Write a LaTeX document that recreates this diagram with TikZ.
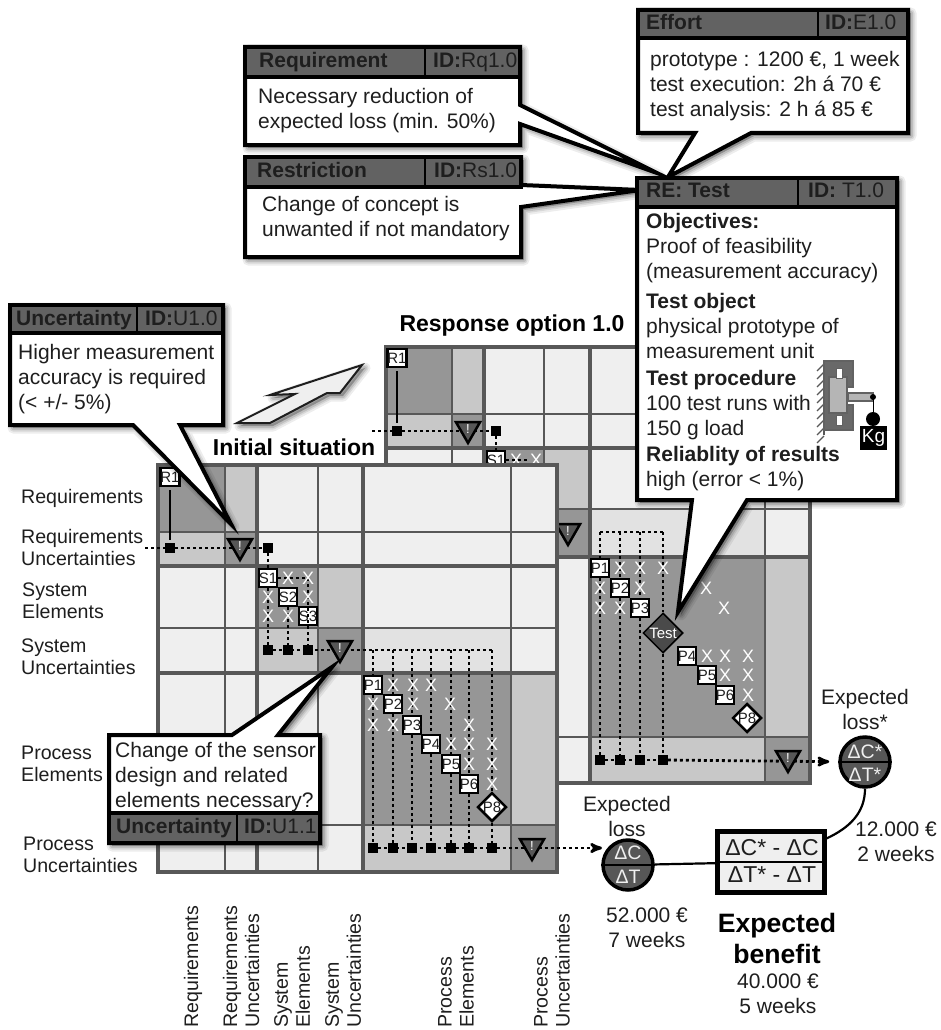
\documentclass[tikz,border=0pt]{standalone}
\usepackage{fontspec}
\setmainfont{Liberation Sans}
\usetikzlibrary{arrows,shapes.geometric}
\definecolor{gridlight}{HTML}{EFEFEF}
\definecolor{gridpale}{HTML}{E2E2E2}
\definecolor{gridmid}{HTML}{C8C8C8}
\definecolor{griddark}{HTML}{969696}
\definecolor{gridrule}{HTML}{585858}
\definecolor{barfill}{HTML}{626262}
\definecolor{inktext}{HTML}{1E1E1E}
\definecolor{nodefill}{HTML}{575757}
\tikzset{
  softshadow/.style={
    preaction={draw=black,fill=black,opacity=.07,line join=round,line width=11pt,transform canvas={shift={(3pt,-3pt)}}},
    preaction={draw=black,fill=black,opacity=.09,line join=round,line width=7pt,transform canvas={shift={(3pt,-3pt)}}},
    preaction={draw=black,fill=black,opacity=.12,line join=round,line width=4pt,transform canvas={shift={(3pt,-3pt)}}}},
  calloutframe/.style={softshadow,draw=black,fill=white,line width=4pt,miter limit=20},
  calloutbar/.style={draw=black,fill=barfill,line width=4pt},
  barsplit/.style={draw=black,line width=2pt},
  bodytext/.style={inner sep=0pt,anchor=west,align=left,text=inktext,font=\fontsize{21}{25}\selectfont},
  headtext/.style={inner sep=0pt,anchor=west,text=inktext,text height=15pt,text depth=4pt,font=\fontsize{21}{25}\selectfont},
  rowlabel/.style={inner sep=0pt,anchor=west,align=left,text=inktext,font=\fontsize{19.6}{22}\selectfont},
  collabel/.style={rowlabel,rotate=90},
  captiontext/.style={inner sep=0pt,align=center,text=inktext,font=\fontsize{21}{25}\selectfont},
  boldtitle/.style={inner sep=0pt,text=black,font=\fontsize{23}{27}\bfseries\selectfont},
  elementbox/.style={draw=black,fill=white,line width=2.4pt,minimum size=18pt,inner sep=0pt,text=inktext,font=\fontsize{15}{15}\selectfont},
  elementdiamond/.style={diamond,aspect=1,draw=black,fill=white,line width=2.5pt,minimum size=29pt,inner sep=0pt,text=inktext,font=\fontsize{15}{15}\selectfont},
  testdiamond/.style={diamond,aspect=1,draw=black,fill=nodefill!85!black,line width=1.5pt,minimum size=40pt,inner sep=0pt,text=white,font=\fontsize{15}{15}\selectfont},
  crossmark/.style={inner sep=0pt,text=white,font=\fontsize{18}{18}\selectfont},
  junction/.style={fill=black,minimum size=9.5pt,inner sep=0pt},
  uncmark/.style={regular polygon,regular polygon sides=3,shape border rotate=180,draw=black,fill=nodefill,line width=2.5pt,minimum size=28pt,inner sep=0pt,text=white,font=\fontsize{13}{13}\selectfont},
  depline/.style={draw=black,line width=2.8pt,dash pattern=on 2.8pt off 3.2pt},
  solidlink/.style={draw=black,line width=2.2pt,shorten <=3pt,shorten >=3pt},
  gridminor/.style={draw=gridrule,line width=2.4pt},
  gridmajor/.style={draw=gridrule,line width=3.2pt},
  gridframe/.style={draw=gridrule,line width=4.4pt},
  expectnode/.style={circle,draw=black,fill=nodefill,line width=3.5pt,minimum size=50pt,inner sep=0pt},
  expecttext/.style={inner sep=0pt,text=gridlight,font=\fontsize{19.5}{20}\selectfont},
  benefitbox/.style={draw=black,fill=gridlight,line width=4.5pt,minimum width=107pt,minimum height=61pt,inner sep=0pt},
  benefittext/.style={inner sep=0pt,text=inktext,font=\fontsize{23}{24}\selectfont},
  benefitlink/.style={draw=black,line width=2.2pt}
}
\begin{document}
\begin{tikzpicture}[x=1pt,y=-1pt,>=stealth']
  \useasboundingbox (0,0) rectangle (941,1030);

  \fill[gridlight] (386,347) rectangle (810,783);
  \foreach \xa/\ya/\xb/\yb/\tone in {
    386/347/452/414/griddark,452/347/484/414/gridmid,386/414/452/448/gridmid,452/414/484/448/griddark,
    484/448/544/509/griddark,544/448/590/509/gridmid,484/509/544/557/gridmid,544/509/590/557/griddark,
    590/509/765/557/gridpale,590/557/765/737/griddark,765/557/810/737/gridmid,
    590/737/765/783/gridmid,765/737/810/783/griddark}
    {\fill[\tone] (\xa,\ya) rectangle (\xb,\yb);}
  \foreach \gx in {452,544,765} {\draw[gridminor] (\gx,347) -- (\gx,783);}
  \foreach \gx in {484,590} {\draw[gridmajor] (\gx,347) -- (\gx,783);}
  \foreach \gy in {414,509,737} {\draw[gridminor] (386,\gy) -- (810,\gy);}
  \foreach \gy in {448,557} {\draw[gridmajor] (386,\gy) -- (810,\gy);}
  \draw[gridframe] (386,347) rectangle (810,783);

  \coordinate (rstart) at (372,431);
  \coordinate (rtop) at (663,532);
  \node[elementbox] (rra) at (397,358) {R1};
  \node[junction] (rjra) at (397,431) {};
  \node[junction] (rjrb) at (496,431) {};
  \node[elementbox] (rsa) at (496,460) {S1};
  \node[crossmark] (rxsa) at (516,460) {X};
  \node[crossmark] (rxsb) at (536,460) {X};
  \node[elementbox] (rpa) at (600,568) {P1};
  \node[elementbox] (rpb) at (620,588) {P2};
  \node[elementbox] (rpc) at (640,608) {P3};
  \node[testdiamond] (rtest) at (663,633) {Test};
  \node[elementbox] (rpd) at (687,656) {P4};
  \node[elementbox] (rpe) at (707,675) {P5};
  \node[elementbox] (rpf) at (725,695) {P6};
  \node[elementdiamond] (rpg) at (747,718) {P8};
  \node[junction] (rja) at (600,760) {};
  \node[junction] (rjb) at (620,760) {};
  \node[junction] (rjc) at (640,760) {};
  \node[junction] (rjd) at (663,760) {};
  \node[expectnode] (lossstar) at (865,762) {};

  \draw[solidlink] (rra) -- (rjra);
  \draw[depline] (rstart) -- (rjrb);
  \draw[depline] (rjrb) -- (rsa);
  \draw[depline] (rsa) -- (rxsb);
  \draw[depline] (rpa |- rtop) -- (rtop);
  \draw[depline] (rpa |- rtop) -- (rpa) -- (rja);
  \draw[depline] (rpb |- rtop) -- (rpb) -- (rjb);
  \draw[depline] (rpc |- rtop) -- (rpc) -- (rjc);
  \draw[depline] (rtop) -- (rtest) -- (rjd);
  \draw[depline] (rja) -- (rjd);
  \draw[depline,->,shorten >=9pt] (rjd) -- (lossstar);
  \node[uncmark] (runa) at (468,429) {!};
  \node[uncmark] (runb) at (568,531) {!};
  \node[uncmark] (runc) at (788,758) {!};
  \foreach \mx/\my [count=\mi] in {620/568,640/568,663/568,600/588,640/588,706/588,600/608,620/608,724/608,
    707/656,725/656,748/656,725/675,748/675,748/695}
    {\node[crossmark] (rxp\mi) at (\mx,\my) {X};}

  \fill[gridlight] (158,465) rectangle (557,872);
  \foreach \xa/\ya/\xb/\yb/\tone in {
    158/465/225/532/griddark,225/465/257/532/gridmid,158/532/225/566/gridmid,225/532/257/566/griddark,
    257/566/318/628/griddark,318/566/363/628/gridmid,257/628/318/673/gridmid,318/628/363/673/griddark,
    363/628/511/673/gridpale,363/673/511/825/griddark,511/673/557/825/gridmid,
    363/825/511/872/gridmid,511/825/557/872/griddark}
    {\fill[\tone] (\xa,\ya) rectangle (\xb,\yb);}
  \foreach \gx in {225,318,511} {\draw[gridminor] (\gx,465) -- (\gx,872);}
  \foreach \gx in {257,363} {\draw[gridmajor] (\gx,465) -- (\gx,872);}
  \foreach \gy in {532,628,825} {\draw[gridminor] (158,\gy) -- (557,\gy);}
  \foreach \gy in {566,673} {\draw[gridmajor] (158,\gy) -- (557,\gy);}
  \draw[gridframe] (158,465) rectangle (557,872);

  \coordinate (istart) at (145,548);
  \node[elementbox] (ra) at (170,477) {R1};
  \node[junction] (jra) at (170,548) {};
  \node[junction] (jrb) at (268,548) {};
  \node[elementbox] (sa) at (268,578) {S1};
  \node[elementbox] (sb) at (288,597) {S2};
  \node[elementbox] (sc) at (308,616) {S3};
  \node[junction] (jsa) at (268,650) {};
  \node[junction] (jsb) at (288,650) {};
  \node[junction] (jsc) at (308,650) {};
  \node[elementbox] (pa) at (373,685) {P1};
  \node[elementbox] (pb) at (393,704) {P2};
  \node[elementbox] (pc) at (412,725) {P3};
  \node[elementbox] (pd) at (431,744) {P4};
  \node[elementbox] (pe) at (451,764) {P5};
  \node[elementbox] (pf) at (469,784) {P6};
  \node[elementdiamond] (pg) at (492,807) {P8};
  \node[junction] (jpa) at (373,848) {};
  \node[junction] (jpb) at (393,848) {};
  \node[junction] (jpc) at (412,848) {};
  \node[junction] (jpd) at (431,848) {};
  \node[junction] (jpe) at (451,848) {};
  \node[junction] (jpf) at (469,848) {};
  \node[junction] (jpg) at (492,848) {};
  \node[expectnode] (loss) at (628,865) {};
  \node[benefitbox] (benefit) at (771,862) {};

  \draw[solidlink] (ra) -- (jra);
  \draw[depline] (istart) -- (jrb);
  \draw[depline] (jrb) -- (sa);
  \draw[depline] (sa) -- (jsa);
  \draw[depline] (sb) -- (jsb);
  \draw[depline] (sa) -| (jsc);
  \draw[depline] (sc) -- (jsc);
  \draw[depline] (jsa) -- (jpg |- jsa);
  \foreach \col in {a,b,c,d,e,f,g}
    {\draw[depline] (p\col |- jsa) -- (p\col) -- (jp\col);}
  \draw[depline] (jpa) -- (jpg);
  \draw[depline,->,shorten >=26pt] (jpg) -- (jpg -| loss);
  \node[uncmark] (una) at (240,546) {!};
  \node[uncmark] (unb) at (340,648) {!};
  \node[uncmark] (unc) at (532,846) {!};
  \foreach \mx/\my [count=\mi] in {288/578,308/578,268/597,308/597,268/616,288/616}
    {\node[crossmark] (xs\mi) at (\mx,\my) {X};}
  \foreach \mx/\my [count=\mi] in {393/685,413/685,431/685,373/704,413/704,450/704,373/725,393/725,469/725,
    451/744,469/744,492/744,469/764,492/764,492/784}
    {\node[crossmark] (xp\mi) at (\mx,\my) {X};}

  \draw[benefitlink] (loss) -- (benefit);
  \draw[benefitlink] (lossstar.south) to[out=-90,in=25] (benefit.23);
  \draw[barsplit] (loss.west) -- (loss.east);
  \draw[barsplit] (lossstar.west) -- (lossstar.east);
  \draw[barsplit] (benefit.west) -- (benefit.east);
  \node[expecttext] (lossc) at (628,853) {ΔC};
  \node[expecttext] (losst) at (628,877) {ΔT};
  \node[expecttext] (lossstarc) at (865,752) {ΔC*};
  \node[expecttext] (lossstart) at (865,775) {ΔT*};
  \node[benefittext] (benefitc) at (772,848) {ΔC* - ΔC};
  \node[benefittext] (benefitt) at (772,875) {ΔT* - ΔT};

  \node[rowlabel] (lblra) at (21,498) {Requirements};
  \node[rowlabel] (lblrb) at (21,547) {Requirements\\Uncertainties};
  \node[rowlabel] (lblsa) at (22,601) {System\\Elements};
  \node[rowlabel] (lblsb) at (21,657) {System\\Uncertainties};
  \node[rowlabel] (lblpa) at (21,764) {Process\\Elements};
  \node[rowlabel] (lblpb) at (23,855) {Process\\Uncertainties};
  \node[collabel] (colra) at (193,1028) {Requirements};
  \node[collabel] (colrb) at (241,1028) {Requirements\\Uncertainties};
  \node[collabel] (colsa) at (292,1028) {System\\Elements};
  \node[collabel] (colsb) at (343,1028) {System\\Uncertainties};
  \node[collabel] (colpa) at (456,1028) {Process\\Elements};
  \node[collabel] (colpb) at (552,1028) {Process\\Uncertainties};

  \node[captiontext] (capstar) at (865,709) {Expected\\loss*};
  \node[captiontext] (caploss) at (627,816) {Expected\\loss};
  \node[captiontext] (capcosta) at (896,842) {12.000 €\\2 weeks};
  \node[captiontext] (capcostb) at (647,928) {52.000 €\\7 weeks};
  \node[captiontext] (capcostc) at (778,994) {40.000 €\\5 weeks};
  \node[inner sep=0pt,align=center,text=black,font=\fontsize{26.6}{31}\bfseries\selectfont] (capbenefit) at (777,938) {Expected\\benefit};
  \node[boldtitle] (titleinit) at (294,447) {Initial situation};
  \node[boldtitle] (titleresp) at (512,326) {Response option 1.0};

  \draw[softshadow,draw=inktext,fill=gridlight,line width=2pt] (237,423) -- (270,423) -- (327,393) -- (340,393) -- (362,365) -- (270,395) -- (295,394) -- cycle;

  \draw[calloutframe] (10,305) -- (223,305) -- (223,425) -- (180,425) -- (231,524) -- (133,425) -- (10,425) -- cycle;
  \draw[calloutbar] (10,305) rectangle (223,333);
  \draw[barsplit] (137,305) -- (137,333);
  \node[headtext] (heada) at (16,320) {\bfseries Uncertainty};
  \node[headtext] (ida) at (145,320) {\textbf{ID:}U1.0};
  \node[bodytext] (bodya) at (18,379) {Higher measurement\\accuracy is required\\(< +/- 5\%)};

  \draw[calloutframe] (109,735) -- (232,735) -- (332,667) -- (278,735) -- (320,735) -- (320,843) -- (109,843) -- cycle;
  \draw[calloutbar] (109,813) rectangle (320,843);
  \draw[barsplit] (237,813) -- (237,843);
  \node[headtext] (headb) at (116,828) {\bfseries Uncertainty};
  \node[headtext] (idb) at (244,828) {\textbf{ID:}U1.1};
  \node[bodytext] (bodyb) at (115,777) {Change of the sensor\\design and related\\elements necessary?};

  \draw[calloutframe] (245,47) -- (520,47) -- (520,105) -- (657,173) -- (520,124) -- (520,145) -- (245,145) -- cycle;
  \draw[calloutbar] (245,47) rectangle (520,77);
  \draw[barsplit] (425,47) -- (425,77);
  \node[headtext] (headc) at (259,62) {\bfseries Requirement};
  \node[headtext] (idc) at (433,62) {\textbf{ID:}Rq1.0};
  \node[bodytext] (bodyc) at (258,111) {Necessary reduction of\\expected loss (min. 50\%)};

  \draw[calloutframe] (245,157) -- (521,157) -- (521,185) -- (640,190) -- (521,207) -- (521,257) -- (245,257) -- cycle;
  \draw[calloutbar] (245,157) rectangle (521,187);
  \draw[barsplit] (425,157) -- (425,187);
  \node[headtext] (headd) at (257,172) {\bfseries Restriction};
  \node[headtext] (idd) at (434,172) {\textbf{ID:}Rs1.0};
  \node[bodytext] (bodyd) at (262,219) {Change of concept is\\unwanted if not mandatory};

  \draw[calloutframe] (638,10) -- (908,10) -- (908,133) -- (751,133) -- (668,177) -- (695,133) -- (638,133) -- cycle;
  \draw[calloutbar] (638,10) rectangle (908,38);
  \draw[barsplit] (818,10) -- (818,38);
  \node[headtext] (heade) at (646,24) {\bfseries Effort};
  \node[headtext] (ide) at (825,24) {\textbf{ID:}E1.0};
  \node[bodytext] (bodye) at (650,86) {prototype : 1200 €, 1 week\\test execution: 2h á 70 €\\test analysis: 2 h á 85 €};

  \draw[calloutframe] (637,178) -- (897,178) -- (897,500) -- (747,500) -- (678,612) -- (692,500) -- (637,500) -- cycle;
  \draw[calloutbar] (637,178) rectangle (897,207);
  \draw[barsplit] (798,178) -- (798,207);
  \node[headtext] (headf) at (646,192) {\bfseries RE: Test};
  \node[headtext] (idf) at (808,192) {\textbf{ID:} T1.0};
  \node[bodytext] (bodyf) at (646,248) {\textbf{Objectives:}\\Proof of feasibility\\(measurement accuracy)};
  \node[bodytext] (bodyg) at (646,326) {\textbf{Test object}\\physical prototype of\\measurement unit};
  \node[bodytext] (bodyh) at (646,405) {\textbf{Test procedure}\\100 test runs with\\150 g load};
  \node[bodytext] (bodyi) at (646,469) {\textbf{Reliablity of results}\\high (error < 1\%)};

  \foreach \hy in {364,372,...,436}
    {\draw[gridrule,line width=1.2pt] (824,\hy) -- (817,\hy+7);}
  \draw[gridrule,line width=1.8pt] (824,360) -- (824,435);
  \draw[barfill,fill=griddark!70!black,line width=2.5pt] (824,361) -- (853,361) -- (853,387) -- (847,387) -- (847,405) -- (853,405) -- (853,430) -- (824,430) -- cycle;
  \draw[barfill,fill=griddark!70,line width=1.8pt] (829,377) rectangle (847,413);
  \draw[barfill,fill=white,line width=1pt] (836,368) rectangle (842,378);
  \draw[barfill,fill=white,line width=1pt] (836,415) rectangle (842,425);
  \draw[barfill,fill=griddark!70,line width=1.5pt] (848,393) rectangle (873,401);
  \fill[black] (873,397) circle (3pt);
  \draw[black,line width=1pt] (873,397) -- (873,412);
  \fill[black] (873,419) circle (7pt);
  \node[fill=black,text=white,inner sep=0pt,minimum width=27pt,minimum height=24pt,font=\fontsize{19}{19}\selectfont] (kgload) at (873.5,438) {Kg};
\end{tikzpicture}
\end{document}
